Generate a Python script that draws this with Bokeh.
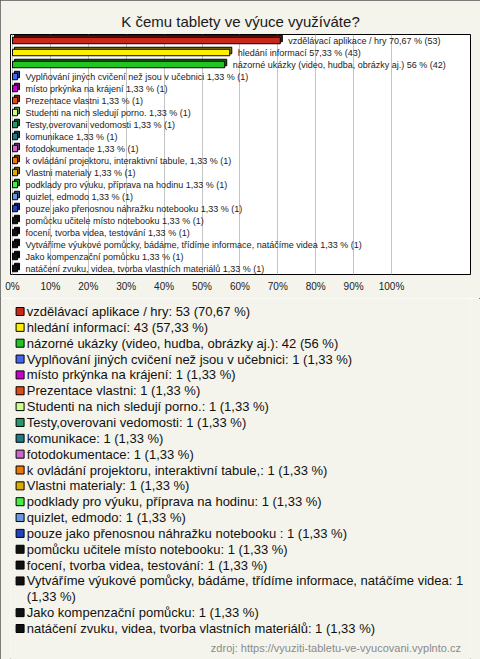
import textwrap
from bokeh.plotting import figure
from bokeh.models import Range1d, FixedTicker, PrintfTickFormatter, ColumnDataSource
from bokeh.layouts import column
from bokeh.embed import file_html
from bokeh.resources import INLINE
from bokeh.core.properties import value

# ---------------- data ----------------
chart_title = "K čemu tablety ve výuce využíváte?"
source_note = "zdroj: https://vyuziti-tabletu-ve-vyucovani.vyplnto.cz"

names = [
    "vzdělávací aplikace / hry",
    "hledání informací",
    "názorné ukázky (video, hudba, obrázky aj.)",
    "Vyplňování jiných cvičení než jsou v učebnici",
    "místo prkýnka na krájení",
    "Prezentace vlastni",
    "Studenti na nich sledují porno.",
    "Testy,overovani vedomosti",
    "komunikace",
    "fotodokumentace",
    "k ovládání projektoru, interaktivní tabule,",
    "Vlastni materialy",
    "podklady pro výuku, příprava na hodinu",
    "quizlet, edmodo",
    "pouze jako přenosnou náhražku notebooku ",
    "pomůcku učitele místo notebooku",
    "focení, tvorba videa, testování",
    "Vytváříme výukové pomůcky, bádáme, třídíme informace, natáčíme videa",
    "Jako kompenzační pomůcku",
    "natáčení zvuku, videa, tvorba vlastních materiálů",
]
counts = [53, 43, 42, 1, 1, 1, 1, 1, 1, 1, 1, 1, 1, 1, 1, 1, 1, 1, 1, 1]
percents = [70.67, 57.33, 56.0, 1.33, 1.33, 1.33, 1.33, 1.33, 1.33, 1.33,
            1.33, 1.33, 1.33, 1.33, 1.33, 1.33, 1.33, 1.33, 1.33, 1.33]
colors = [
    "#c8281a", "#ffee00", "#22c422", "#4466ee", "#cc00cc",
    "#e04a14", "#ccff88", "#229966", "#1f7a88", "#cc66cc",
    "#ee7700", "#ddaa00", "#44ee44", "#6699dd", "#2244bb",
    "#111111", "#111111", "#111111", "#111111", "#111111",
]
tick_values = [0, 10, 20, 30, 40, 50, 60, 70, 80, 90, 100]

# ---------------- style ----------------
BG = "#f4f4ec"
FONT = "Liberation Sans"
W = 480
H1 = 298
H2 = 659 - H1
LINE_PX = 15.85
FIRST_LINE_PX = 13


def fmt(v):
    s = f"{v:.2f}".rstrip("0").rstrip(".")
    return s.replace(".", ",")


def darker(hex_color, f=0.55):
    h = hex_color.lstrip("#")
    r, g, b = (int(h[i:i + 2], 16) for i in (0, 2, 4))
    return "#%02x%02x%02x" % (int(r * f), int(g * f), int(b * f))


rows = list(range(1, len(names) + 1))
bar_labels = [f"{n} {fmt(p)} % ({c})" for n, p, c in zip(names, percents, counts)]
side_colors = [darker(c) for c in colors]

# ---------------- bar chart ----------------
frame_w = W - 20
px_per_pct = 379 / 100.0
x0 = -2 / px_per_pct
x1 = x0 + frame_w / px_per_pct
dx = 2 / px_per_pct          # 3D depth in x (2px)
dy = 2 / 12.0                # 3D depth in y (2px)
half = 0.27

src = ColumnDataSource(dict(
    row=rows, pct=percents, color=colors, side=side_colors, label=bar_labels,
    top=[r - half for r in rows], bottom=[r + half for r in rows],
    btop=[r - half - dy for r in rows], bbottom=[r + half - dy for r in rows],
    bleft=[dx] * len(rows), bright=[p + dx for p in percents],
    left=[0] * len(rows),
))

p1 = figure(width=W, height=H1, output_backend="svg", toolbar_location=None,
            x_range=Range1d(x0, x1), y_range=Range1d(len(rows) + 0.5, 0.5),
            min_border_left=10, min_border_right=10, min_border_top=34,
            min_border_bottom=H1 - 34 - 240)
p1.title.text = chart_title
p1.title.align = "center"
p1.title.text_font = FONT
p1.title.text_font_size = "15px"
p1.title.text_font_style = "normal"
p1.title.text_color = "#1a1a1a"
p1.title.standoff = 9
p1.background_fill_color = "white"
p1.border_fill_color = BG
p1.outline_line_color = "black"
p1.outline_line_width = 1
p1.outline_line_alpha = 1

p1.quad(left="bleft", right="bright", top="btop", bottom="bbottom", source=src,
        fill_color="side", line_color="black", line_width=1)
p1.quad(left="left", right="pct", top="top", bottom="bottom", source=src,
        fill_color="color", line_color="black", line_width=1)
p1.text(x="pct", y="row", text="label", source=src, x_offset=8,
        text_baseline="middle", text_align="left", text_font=value(FONT),
        text_font_size="9px", text_color="#222222")

p1.xaxis.ticker = FixedTicker(ticks=tick_values)
p1.xaxis.formatter = PrintfTickFormatter(format="%d%%")
p1.xaxis.axis_line_color = None
p1.xaxis.major_tick_line_color = None
p1.xaxis.minor_tick_line_color = None
p1.xaxis.major_tick_out = 0
p1.xaxis.major_tick_in = 0
p1.xaxis.major_label_standoff = 6
p1.xaxis.major_label_text_font = FONT
p1.xaxis.major_label_text_font_size = "10px"
p1.xaxis.major_label_text_color = "#222222"
p1.yaxis.visible = False
p1.xgrid.ticker = FixedTicker(ticks=tick_values)
p1.xgrid.grid_line_color = "#c4c4c4"
p1.ygrid.grid_line_color = None

# ---------------- legend block ----------------
leg_text, leg_line, sq_line, sq_color = [], [], [], []
k = 0
for n, c, p, col in zip(names, counts, percents, colors):
    label = f"{n}: {c} ({fmt(p)} %)"
    parts = textwrap.wrap(label, width=74)
    sq_line.append(k)
    sq_color.append(col)
    for part in parts:
        leg_text.append(part)
        leg_line.append(k)
        k += 1
total_lines = k

y_top = -FIRST_LINE_PX / LINE_PX
y_bottom = (H2 - FIRST_LINE_PX) / LINE_PX
p2 = figure(width=W, height=H2, output_backend="svg", toolbar_location=None,
            x_range=Range1d(0, W), y_range=Range1d(y_bottom, y_top),
            x_axis_location=None, y_axis_location=None,
            min_border=0, min_border_left=0, min_border_right=0,
            min_border_top=0, min_border_bottom=0)
p2.background_fill_color = BG
p2.border_fill_color = BG
p2.outline_line_color = None
p2.xgrid.visible = False
p2.ygrid.visible = False

p2.scatter(x=[10] * len(sq_line), y=sq_line, marker="square", size=8,
           fill_color=sq_color, line_color="black", line_width=1)
p2.text(x=[17] * len(leg_text), y=leg_line, text=leg_text, text_baseline="middle",
        text_align="left", text_font=value(FONT), text_font_size="13px",
        text_color="#111111")
p2.text(x=[W - 10], y=[total_lines + 0.26], text=[source_note], text_align="right",
        text_baseline="middle", text_font=value(FONT), text_font_size="11px",
        text_color="#8a8a8a")

layout = column(p1, p2, spacing=0,
                styles={"outline": "1px solid #555555", "outline-offset": "-1px"})
open("out.html", "w").write(file_html(layout, INLINE))
